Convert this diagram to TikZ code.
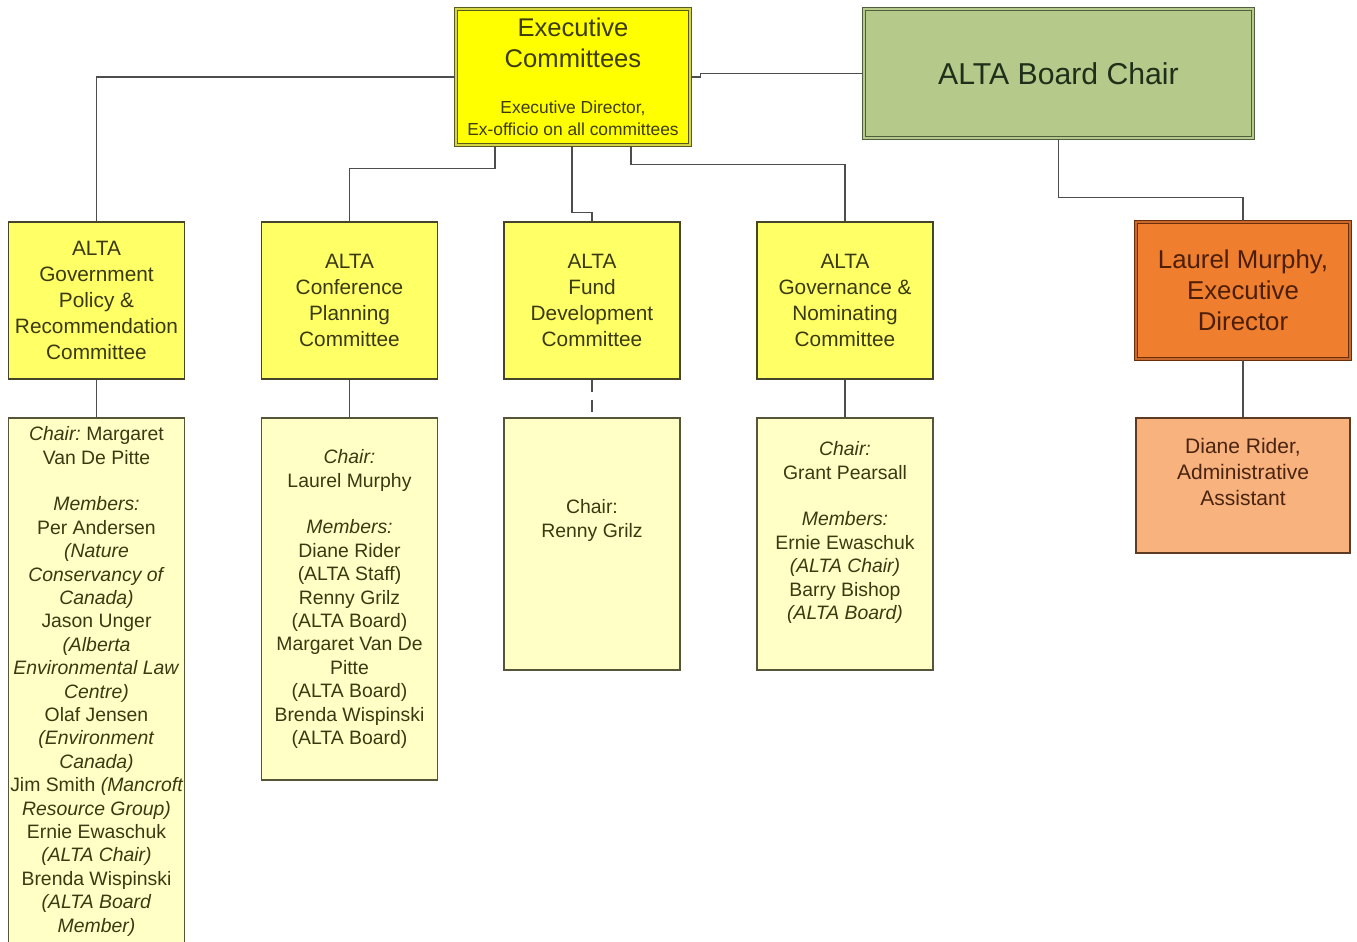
\documentclass[tikz,border=0pt]{standalone}
\usepackage{fontspec}
\setmainfont{Liberation Sans}
\usetikzlibrary{positioning}
\definecolor{execfill}{HTML}{FFFF00}
\definecolor{execline}{HTML}{5A5A1E}
\definecolor{execdbl}{HTML}{D6D640}
\definecolor{exectext}{HTML}{3C3C0A}
\definecolor{boardfill}{HTML}{B5C98B}
\definecolor{boardline}{HTML}{4E5E3E}
\definecolor{boardtext}{HTML}{1F2F1A}
\definecolor{dirfill}{HTML}{EF7F2F}
\definecolor{dirline}{HTML}{6B2E0B}
\definecolor{dirdbl}{HTML}{C8682A}
\definecolor{dirtext}{HTML}{4B1E05}
\definecolor{asstfill}{HTML}{F8B27E}
\definecolor{asstline}{HTML}{5E3A22}
\definecolor{assttext}{HTML}{4A2410}
\definecolor{comfill}{HTML}{FFFF66}
\definecolor{comline}{HTML}{45452A}
\definecolor{comtext}{HTML}{3A3A12}
\definecolor{detfill}{HTML}{FFFFC6}
\definecolor{detline}{HTML}{55553A}
\definecolor{linkgray}{HTML}{4D4D4D}

\begin{document}
\begin{tikzpicture}[x=0.5pt,y=-0.5pt,
	box/.style={draw,rectangle,inner sep=0pt,align=center,line width=0.7pt},
	committee/.style={box,fill=comfill,draw=comline,text=comtext,minimum width=88pt,minimum height=78.5pt,font=\fontsize{10.4pt}{13pt}\selectfont},
	detail/.style={box,fill=detfill,draw=detline,minimum width=88pt},
	detailtext/.style={align=center,inner sep=0pt,text=comtext,font=\fontsize{9.7pt}{11.7pt}\selectfont},
	link/.style={draw=linkgray,line width=0.75pt}]
	\useasboundingbox (0,0) rectangle (1357,942);

	% top row
	\node[box,fill=execfill,draw=execline,double=execdbl,double distance=1.2pt,line width=0.6pt,minimum width=117pt,minimum height=68pt,text=exectext,font=\fontsize{12.8pt}{15.5pt}\selectfont] (exec) at (573,77) {Executive\\Committees\\[7.5pt]{\fontsize{8.7pt}{11pt}\selectfont Executive Director,}\\[-4.5pt]{\fontsize{8.7pt}{11pt}\selectfont Ex-officio on all committees}};
	\node[box,fill=boardfill,draw=boardline,double=boardfill,double distance=1.2pt,line width=0.6pt,minimum width=194.5pt,minimum height=64.5pt,text=boardtext,font=\fontsize{15.1pt}{18pt}\selectfont] (chair) at (1058.5,73.5) {ALTA Board Chair};

	% committees
	\node[committee] (govt) at (96.5,300.5) {ALTA\\Government\\Policy \&\\Recommendation\\Committee};
	\node[committee] (conf) at (349.5,300.5) {ALTA\\Conference\\Planning\\Committee};
	\node[committee] (fund) at (592,300.5) {ALTA\\Fund\\Development\\Committee};
	\node[committee] (govn) at (845,300.5) {ALTA\\Governance \&\\Nominating\\Committee};

	% staff
	\node[box,fill=dirfill,draw=dirline,double=dirdbl,double distance=1.2pt,line width=0.6pt,minimum width=107pt,minimum height=68.5pt,text=dirtext,font=\fontsize{12.9pt}{15.5pt}\selectfont] (director) at (1243,290.5) {Laurel Murphy,\\Executive\\Director};
	\node[box,fill=asstfill,draw=asstline,minimum width=107pt,minimum height=67.5pt] (assistant) at (1243,485.5) {};
	\node[detailtext,text=assttext,font=\fontsize{10.5pt}{13pt}\selectfont,below=10.5pt of assistant.north] (assistanttext) {Diane Rider,\\Administrative\\Assistant};

	% members
	\node[detail,minimum height=264pt] (govtdet) at (96.5,682) {};
	\node[detailtext,below=4.5pt of govtdet.north] (govttext) {{\itshape Chair:}\ Margaret\\Van De Pitte\\[11.7pt]\textit{Members:}\\Per Andersen\\\textit{(Nature}\\\textit{Conservancy of}\\\textit{Canada)}\\Jason Unger\\\textit{(Alberta}\\\textit{Environmental Law}\\\textit{Centre)}\\Olaf Jensen\\\textit{(Environment}\\\textit{Canada)}\\Jim Smith {\itshape(Mancroft}\\\textit{Resource Group)}\\Ernie Ewaschuk\\\textit{(ALTA Chair)}\\Brenda Wispinski\\\textit{(ALTA Board}\\\textit{Member)}};
	\node[detail,minimum height=181pt] (confdet) at (349.5,599) {};
	\node[detailtext,below=16pt of confdet.north] (conftext) {\textit{Chair:}\\Laurel Murphy\\[11.7pt]\textit{Members:}\\Diane Rider\\(ALTA Staff)\\Renny Grilz\\(ALTA Board)\\Margaret Van De\\Pitte\\(ALTA Board)\\Brenda Wispinski\\(ALTA Board)};
	\node[detail,minimum height=126pt] (funddet) at (592,544) {};
	\node[detailtext,below=41pt of funddet.north] (fundtext) {Chair:\\Renny Grilz};
	\node[detail,minimum height=126pt] (govndet) at (845,544) {};
	\node[detailtext,below=12pt of govndet.north] (govntext) {\textit{Chair:}\\Grant Pearsall\\[11.7pt]\textit{Members:}\\Ernie Ewaschuk\\\textit{(ALTA Chair)}\\Barry Bishop\\\textit{(ALTA Board)}};

	% connectors
	\draw[link] (exec.west) -| (govt.north);
	\draw[link] (exec.east) -- ++(10,0) |- (chair.west);
	\draw[link] ([xshift=-39pt]exec.south) -- ++(0,23) -| (conf.north);
	\draw[link] ([xshift=-0.5pt]exec.south) -- ++(0,67) -| (fund.north);
	\draw[link] ([xshift=29pt]exec.south) -- ++(0,19) -| (govn.north);
	\draw[link] (chair.south) -- ++(0,59) -| (director.north);
	\draw[link] (director.south) -- (assistant.north);
	\draw[link] (govt.south) -- (govtdet.north);
	\draw[link] (conf.south) -- (confdet.north);
	\draw[link,dash pattern=on 6pt off 4pt] (fund.south) -- (funddet.north);
	\draw[link] (govn.south) -- (govndet.north);
\end{tikzpicture}
\end{document}
